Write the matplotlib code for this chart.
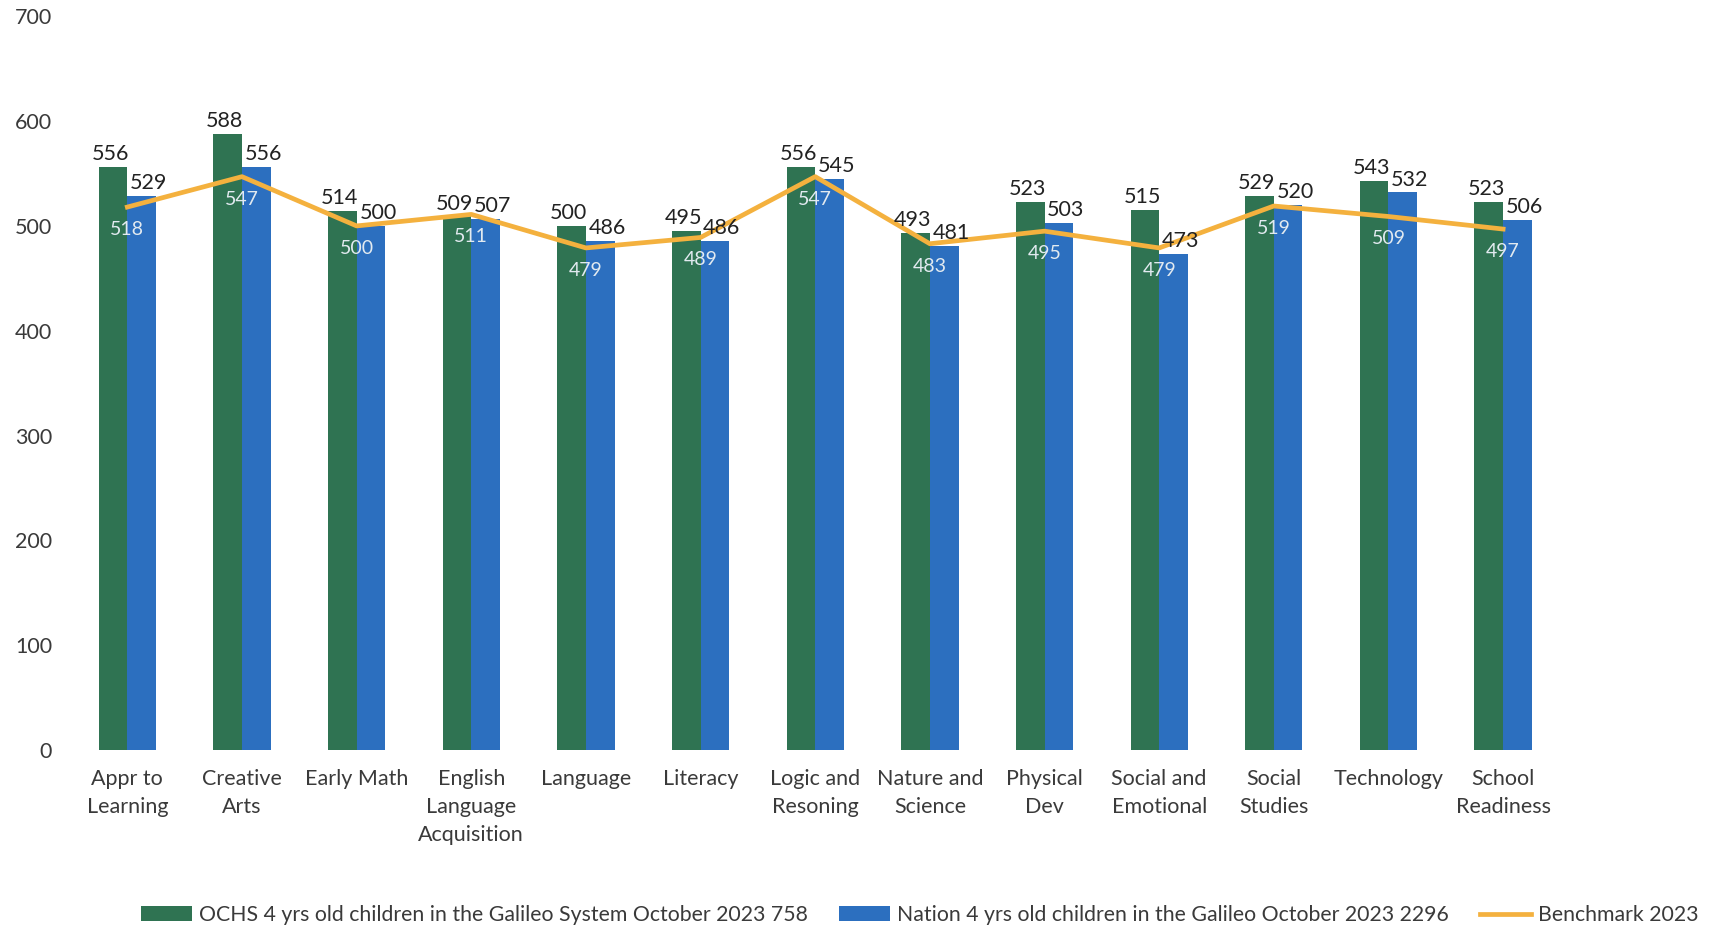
import matplotlib.pyplot as plt
import numpy as np
from matplotlib.transforms import ScaledTranslation

# categories and series values
categories = ["Appr to\nLearning", "Creative\nArts", "Early Math", "English\nLanguage\nAcquisition",
              "Language", "Literacy", "Logic and\nResoning", "Nature and\nScience", "Physical\nDev",
              "Social and\nEmotional", "Social\nStudies", "Technology", "School\nReadiness"]
ochs = [556, 588, 514, 509, 500, 495, 556, 493, 523, 515, 529, 543, 523]
nation = [529, 556, 500, 507, 486, 486, 545, 481, 503, 473, 520, 532, 506]
benchmark = [518, 547, 500, 511, 479, 489, 547, 483, 495, 479, 519, 509, 497]

series_names = ["OCHS 4 yrs old children in the Galileo System October 2023 758",
                "Nation 4 yrs old children in the Galileo October 2023 2296",
                "Benchmark 2023"]

plt.rcParams['font.family'] = ['Lato', 'DejaVu Sans']

GREEN = '#2F7352'
BLUE = '#2C6FBF'
ORANGE = '#F4B13E'
TEXT = '#3A3A3A'

fig = plt.figure(figsize=(17.29, 9.30), dpi=100)
fig.patch.set_facecolor('white')
ax = fig.add_axes([0.0405, 0.1935, 0.862, 0.789])

x = np.arange(len(categories))
w = 0.25

b1 = ax.bar(x - w / 2, ochs, width=w, color=GREEN, label=series_names[0], zorder=2)
b2 = ax.bar(x + w / 2, nation, width=w, color=BLUE, label=series_names[1], zorder=2)
ln, = ax.plot(x, benchmark, color=ORANGE, lw=3.4, label=series_names[2], zorder=3)

# value labels: green ones nudged left, blue ones nudged right (as in the original)
left = ax.transData + ScaledTranslation(-2 / 72, 0, fig.dpi_scale_trans)
right = ax.transData + ScaledTranslation(5 / 72, 0, fig.dpi_scale_trans)
for xi, v in zip(x, ochs):
    ax.annotate(str(v), (xi - w / 2, v), xycoords=left, xytext=(0, 2), textcoords='offset points',
                ha='center', va='bottom', fontsize=15.5, color='#222222', zorder=5)
for xi, v in zip(x, nation):
    ax.annotate(str(v), (xi + w / 2, v), xycoords=right, xytext=(0, 2), textcoords='offset points',
                ha='center', va='bottom', fontsize=15.5, color='#222222', zorder=5)
for xi, v in zip(x, benchmark):
    ax.annotate(str(v), (xi, v), xytext=(0, -10), textcoords='offset points',
                ha='center', va='top', fontsize=14, color='#E2EAF0', zorder=6)

ax.set_xlim(-0.5, len(categories) - 0.5)
ax.set_ylim(0, 700)
ax.set_yticks(range(0, 701, 100))
ax.set_xticks(x)
ax.set_xticklabels(categories, fontsize=15.5, color=TEXT, linespacing=1.5)
ax.tick_params(axis='y', labelsize=15.5, labelcolor=TEXT, length=0, pad=13)
ax.tick_params(axis='x', length=0, pad=14)
for s in ax.spines.values():
    s.set_visible(False)

fig.legend(handles=[b1, b2, ln], labels=series_names, loc='center', bbox_to_anchor=(0.532, 0.016),
           ncol=3, frameon=False, fontsize=15.3, handlelength=2.4, handleheight=0.7,
           columnspacing=1.5, handletextpad=0.3, labelcolor=TEXT)

fig.savefig('out.png', dpi=100, facecolor='white')
